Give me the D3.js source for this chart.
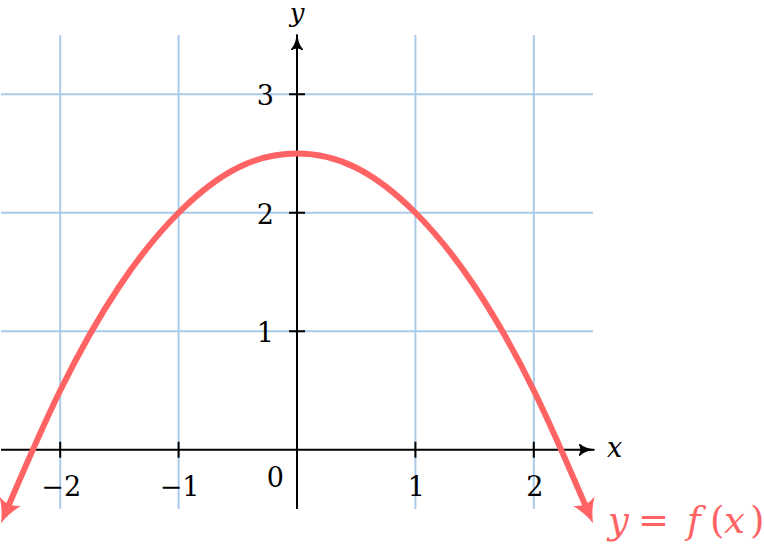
<!DOCTYPE html>
<html>
<head>
<meta charset="utf-8">
<script src="https://cdn.jsdelivr.net/npm/d3@7"></script>
<style>
  body { margin: 0; background: #fff; }
  text { font-family: "DejaVu Serif", "Liberation Serif", serif; }
</style>
</head>
<body>
<svg id="chart"></svg>
<script>
let svgWidth = 764, svgHeight = 545

// values
let curveX = [-2.47, -2, -1.5, -1, -0.5, 0, 0.5, 1, 1.5, 2, 2.47]
let curveY = [-0.55, 0.5, 1.38, 2, 2.38, 2.5, 2.38, 2, 1.38, 0.5, -0.55]
let xTicks = [-2, -1, 1, 2]
let yTicks = [1, 2, 3]
let xTickLabels = ['\u22122', '\u22121', '1', '2']
let yTickLabels = ['1', '2', '3']
let curveLabel = ['y', '=', 'f', '(', 'x', ')']

let red = '#ff6363', gridColor = '#a9cbe9'

let svg = d3.select('#chart').attr('width', svgWidth).attr('height', svgHeight)

let x = d3.scaleLinear().domain([-2.5, 2.5]).range([1, 593])
let y = d3.scaleLinear().domain([-0.5, 3.5]).range([509, 35])

let defs = svg.append('defs')
defs.append('marker').attr('id', 'axisArrow')
  .attr('viewBox', '0 0 16 12').attr('refX', 15).attr('refY', 6)
  .attr('markerWidth', 16).attr('markerHeight', 12)
  .attr('markerUnits', 'userSpaceOnUse').attr('orient', 'auto')
  .append('path').attr('d', 'M0,0 Q6,6 16,6 Q6,6 0,12 Q4,6 0,0 Z')
  .attr('fill', '#000').attr('stroke', '#000').attr('stroke-width', 1.2)
defs.append('marker').attr('id', 'curveArrow')
  .attr('viewBox', '0 0 24 24').attr('refX', 15).attr('refY', 12)
  .attr('markerWidth', 24).attr('markerHeight', 24)
  .attr('markerUnits', 'userSpaceOnUse').attr('orient', 'auto-start-reverse')
  .append('path').attr('d', 'M0,0 Q10,8 24,12 Q10,16 0,24 Q7,12 0,0 Z')
  .attr('fill', red)

// grid
let g = svg.append('g')
g.selectAll('.vgrid').data(xTicks).enter().append('line')
  .attr('x1', d => x(d)).attr('x2', d => x(d))
  .attr('y1', y(3.5)).attr('y2', y(-0.5))
  .attr('stroke', gridColor).attr('stroke-width', 2)
g.selectAll('.hgrid').data(yTicks).enter().append('line')
  .attr('x1', x(-2.5)).attr('x2', x(2.5))
  .attr('y1', d => y(d)).attr('y2', d => y(d))
  .attr('stroke', gridColor).attr('stroke-width', 2)

// axes
g.append('line').attr('x1', x(-2.5)).attr('x2', x(2.5) + 1).attr('y1', y(0)).attr('y2', y(0))
  .attr('stroke', '#000').attr('stroke-width', 2).attr('marker-end', 'url(#axisArrow)')
g.append('line').attr('x1', x(0)).attr('x2', x(0)).attr('y1', y(-0.5)).attr('y2', y(3.5))
  .attr('stroke', '#000').attr('stroke-width', 2).attr('marker-end', 'url(#axisArrow)')

g.selectAll('.xtick').data(xTicks).enter().append('line')
  .attr('x1', d => x(d)).attr('x2', d => x(d))
  .attr('y1', y(0) - 8).attr('y2', y(0) + 8)
  .attr('stroke', '#000').attr('stroke-width', 2)
g.selectAll('.ytick').data(yTicks).enter().append('line')
  .attr('x1', x(0) - 8).attr('x2', x(0) + 8)
  .attr('y1', d => y(d)).attr('y2', d => y(d))
  .attr('stroke', '#000').attr('stroke-width', 2)

g.selectAll('.xlab').data(xTicks).enter().append('text')
  .text((d, i) => xTickLabels[i])
  .attr('x', d => x(d) + 1).attr('y', y(0) + 46)
  .attr('text-anchor', 'middle').style('font-size', '27px')
g.selectAll('.ylab').data(yTicks).enter().append('text')
  .text((d, i) => yTickLabels[i])
  .attr('x', x(0) - 23).attr('y', d => y(d) + 11)
  .attr('text-anchor', 'end').style('font-size', '27px')
g.append('text').text('0').attr('x', x(0) - 13).attr('y', y(0) + 37)
  .attr('text-anchor', 'end').style('font-size', '27px')

g.append('text').text('x').attr('x', x(2.5) + 14).attr('y', y(0) + 7)
  .style('font-size', '27px').style('font-style', 'italic')
g.append('text').text('y').attr('x', x(0)).attr('y', 22)
  .attr('text-anchor', 'middle').style('font-size', '26px').style('font-style', 'italic')

// curve
let pts = curveX.map((v, i) => [v, curveY[i]])
let line = d3.line().x(d => x(d[0])).y(d => y(d[1])).curve(d3.curveNatural)
g.append('path').attr('d', line(pts))
  .attr('fill', 'none').attr('stroke', red).attr('stroke-width', 6)
  .attr('marker-start', 'url(#curveArrow)').attr('marker-end', 'url(#curveArrow)')

// label glyphs laid out like the math typesetting
let labelX = [608, 638, 687, 710, 724, 750]
g.selectAll('.flab').data(curveLabel).enter().append('text')
  .text(d => d).attr('x', (d, i) => labelX[i]).attr('y', 533)
  .attr('fill', red).style('font-size', '37px')
  .style('font-style', d => /[a-z]/.test(d) ? 'italic' : 'normal')
</script>
</body>
</html>
